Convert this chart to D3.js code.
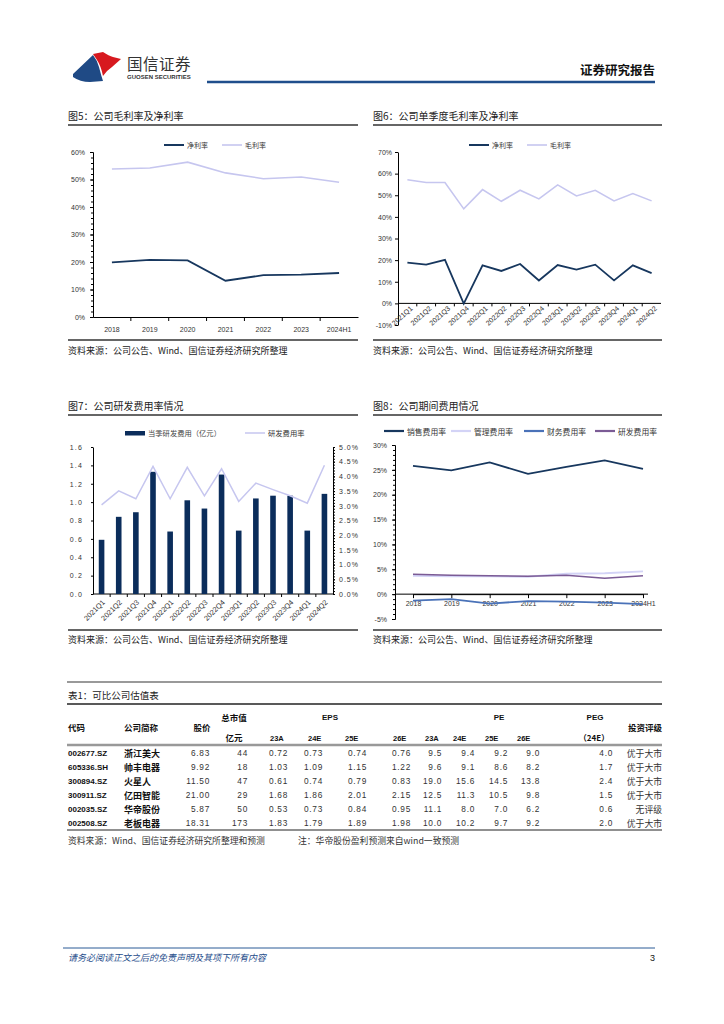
<!DOCTYPE html>
<html><head><meta charset="utf-8">
<script src="https://cdn.jsdelivr.net/npm/d3@7"></script>
<style>body{margin:0;background:#fff}</style>
</head><body><svg id="c" width="724" height="1024"></svg>
<script>
// ---------- DATA ----------
const yearCats = ["2018","2019","2020","2021","2022","2023","2024H1"];
const netMargin = [19.9,20.8,20.6,13.2,15.2,15.4,16.0];
const grossMargin = [53.8,54.2,56.3,52.4,50.3,50.9,49.0];

const quarterCats = ["2021Q1","2021Q2","2021Q3","2021Q4","2022Q1","2022Q2","2022Q3","2022Q4","2023Q1","2023Q2","2023Q3","2023Q4","2024Q1","2024Q2"];
const qNetMargin = [18.8,17.9,20.1,-0.1,17.6,15.0,18.2,10.6,17.7,15.6,17.9,10.6,17.6,14.0];
const qGrossMargin = [57.2,55.9,55.9,43.7,52.6,47.2,52.3,48.3,54.8,49.7,52.3,47.4,50.8,47.4];

const rdExpense = [0.59,0.84,0.89,1.33,0.68,1.02,0.93,1.30,0.69,1.04,1.07,1.07,0.69,1.09];
const rdRateQ = [3.03,3.51,3.24,4.34,3.24,4.31,3.34,4.26,3.15,3.77,3.55,3.34,3.09,4.38];

const sellRate = [25.8,24.9,26.5,24.2,25.6,26.9,25.2];
const adminRate = [3.7,3.6,3.6,3.5,4.1,4.2,4.6];
const finRate = [-1.3,-1.0,-1.9,-1.4,-1.5,-1.7,-2.0];
const rdRate = [4.0,3.8,3.7,3.6,3.8,3.2,3.7];

const codes = ["002677.SZ","605336.SH","300894.SZ","300911.SZ","002035.SZ","002508.SZ"];
const names = ["浙江美大","帅丰电器","火星人","亿田智能","华帝股份","老板电器"];
const prices = [6.83,9.92,11.50,21.00,5.87,18.31];
const mcap = [44,18,47,29,50,173];
const eps23A = [0.72,1.03,0.61,1.68,0.53,1.83];
const eps24E = [0.73,1.09,0.74,1.86,0.73,1.79];
const eps25E = [0.74,1.15,0.79,2.01,0.84,1.89];
const eps26E = [0.76,1.22,0.83,2.15,0.95,1.98];
const pe23A = [9.5,9.6,19.0,12.5,11.1,10.0];
const pe24E = [9.4,9.1,15.6,11.3,8.0,10.2];
const pe25E = [9.2,8.6,14.5,10.5,7.0,9.7];
const pe26E = [9.0,8.2,13.8,9.8,6.2,9.2];
const peg24E = [4.0,1.7,2.4,1.5,0.6,2.0];
const ratings = ["优于大市","优于大市","优于大市","优于大市","无评级","优于大市"];

// ---------- HELPERS ----------
const svg = d3.select("#c");
const CJK = '"Noto Sans CJK SC","Noto Sans",sans-serif';
const LAT = '"Liberation Sans",Arial,sans-serif';
const NAVY = "#17375e", LAV = "#c6c6ef", BAR = "#0b2d5b", FIN = "#4a72b8", RDP = "#7b5b95";

function txt(x,y,s,o={}){
  return svg.append("text").attr("x",x).attr("y",y).text(s)
    .attr("font-size",o.size||9).attr("fill",o.fill||"#222")
    .attr("text-anchor",o.anchor||"start").attr("dominant-baseline","central")
    .attr("font-weight",o.weight||"normal").attr("font-family",o.family||CJK)
    .attr("font-style",o.style||"normal").attr("letter-spacing",o.ls||0);
}
function hl(x1,x2,y,w,c){
  svg.append("line").attr("x1",x1).attr("x2",x2).attr("y1",y).attr("y2",y)
    .attr("stroke",c).attr("stroke-width",w);
}
function styleAxis(g,size){
  g.selectAll("path.domain").attr("stroke","#000").attr("stroke-width",1);
  g.selectAll(".tick line").attr("stroke","#000");
  g.selectAll("text").attr("font-family",LAT).attr("font-size",size||7).attr("fill","#333");
}
function legendLine(x,y,color,w,label,size){
  svg.append("line").attr("x1",x).attr("x2",x+20).attr("y1",y).attr("y2",y).attr("stroke",color).attr("stroke-width",w);
  txt(x+23,y,label,{size:size||7,fill:"#333"});
}

// ---------- PAGE HEADER ----------
svg.append("path").attr("d","M73,74 L93,55 Q97,60 99,67 Q101,75 103,81 L90,82 Q80,82 73,77Z").attr("fill","#1f4a85");
svg.append("path").attr("d","M93,54 L103,52 Q109,56 113,57 L121,59 L112,67 Q106,71 103,76 Q101,66 97,60Z").attr("fill","#d7191f");
txt(127,63,"国信证券",{size:15.5,fill:"#333",ls:0.5});
txt(127,77,"GUOSEN SECURITIES",{size:6,fill:"#333",family:LAT,weight:"bold"});
txt(655,69,"证券研究报告",{size:12.5,anchor:"end",weight:"bold",fill:"#111"});
hl(207,655,82,2.6,"#1f4e8c");

// ---------- SECTION FRAMES ----------
const SRC = "资料来源：公司公告、Wind、国信证券经济研究所整理";
txt(68,115,"图5：公司毛利率及净利率",{size:10});
hl(68,358,125,1.3,"#333");
hl(68,358,340,1.3,"#333");
txt(68,350,SRC,{size:9});
txt(373,115,"图6：公司单季度毛利率及净利率",{size:10});
hl(373,662,125,1.3,"#333");
hl(373,662,340,1.3,"#333");
txt(373,350,SRC,{size:9});
txt(68,405,"图7：公司研发费用率情况",{size:10});
hl(68,358,415,1.3,"#333");
hl(68,358,630,1.3,"#333");
txt(68,639,SRC,{size:9});
txt(373,405,"图8：公司期间费用情况",{size:10});
hl(373,662,415,1.3,"#333");
hl(373,662,630,1.3,"#333");
txt(373,639,SRC,{size:9});

// ---------- CHART 5 ----------
{
  const x = d3.scaleBand().domain(yearCats).range([93,358]);
  const y = d3.scaleLinear().domain([0,60]).range([317,152]);
  const gm = svg.append("g").attr("transform","translate(93,0)")
    .call(d3.axisLeft(y).tickValues(d3.range(0,61,2)).tickSize(2).tickFormat("").tickSizeOuter(0));
  styleAxis(gm);
  const gy = svg.append("g").attr("transform","translate(93,0)")
    .call(d3.axisLeft(y).tickValues(d3.range(0,61,10)).tickSize(3).tickPadding(5).tickFormat(d=>d+"%").tickSizeOuter(0));
  styleAxis(gy);
  const gx = svg.append("g").attr("transform","translate(0,317)")
    .call(d3.axisBottom(x).tickSize(0).tickPadding(10).tickSizeOuter(0));
  styleAxis(gx);
  svg.append("g").selectAll("line").data(yearCats.slice(1)).join("line")
    .attr("x1",d=>x(d)).attr("x2",d=>x(d)).attr("y1",317).attr("y2",321).attr("stroke","#000");
  const cx = (d,i)=>x(yearCats[i])+x.bandwidth()/2;
  const line = d3.line().x(cx).y(d=>y(d));
  svg.append("path").datum(grossMargin).attr("d",line).attr("fill","none").attr("stroke",LAV).attr("stroke-width",1.6);
  svg.append("path").datum(netMargin).attr("d",line).attr("fill","none").attr("stroke",NAVY).attr("stroke-width",1.8);
  legendLine(164,145,NAVY,2,"净利率");
  legendLine(222,145,LAV,1.6,"毛利率");
}

// ---------- CHART 6 ----------
{
  const x = d3.scaleBand().domain(quarterCats).range([398,661]);
  const y = d3.scaleLinear().domain([-10,70]).range([325,152]);
  const gy = svg.append("g").attr("transform","translate(398,0)")
    .call(d3.axisLeft(y).tickValues(d3.range(-10,71,10)).tickSize(3).tickPadding(3).tickFormat(d=>d+"%").tickSizeOuter(0));
  styleAxis(gy);
  svg.append("line").attr("x1",398).attr("x2",661).attr("y1",y(0)).attr("y2",y(0)).attr("stroke","#000");
  svg.append("g").selectAll("line").data(quarterCats.slice(1)).join("line")
    .attr("x1",d=>x(d)).attr("x2",d=>x(d)).attr("y1",y(0)).attr("y2",y(0)+3).attr("stroke","#000");
  svg.append("g").selectAll("text").data(quarterCats).join("text")
    .attr("transform",d=>`translate(${x(d)+x.bandwidth()/2+4},${y(0)+4}) rotate(-42)`)
    .attr("text-anchor","end").attr("dominant-baseline","central")
    .attr("font-family",LAT).attr("font-size",7).attr("fill","#333").text(d=>d);
  const cx = (d,i)=>x(quarterCats[i])+x.bandwidth()/2;
  const line = d3.line().x(cx).y(d=>y(d));
  svg.append("path").datum(qGrossMargin).attr("d",line).attr("fill","none").attr("stroke",LAV).attr("stroke-width",1.6);
  svg.append("path").datum(qNetMargin).attr("d",line).attr("fill","none").attr("stroke",NAVY).attr("stroke-width",1.8);
  legendLine(469,145,NAVY,2,"净利率");
  legendLine(527,145,LAV,1.6,"毛利率");
}

// ---------- CHART 7 ----------
{
  const x = d3.scaleBand().domain(quarterCats).range([93,333]);
  const yL = d3.scaleLinear().domain([0,1.6]).range([594,447]);
  const yR = d3.scaleLinear().domain([0,5]).range([594,447]);
  const gl = svg.append("g").attr("transform","translate(93,0)")
    .call(d3.axisLeft(yL).tickValues(d3.range(0,1.61,0.2)).tickSize(2).tickPadding(8).tickFormat(d3.format(".1f")).tickSizeOuter(0));
  styleAxis(gl); gl.selectAll("text").attr("letter-spacing",1.2);
  const gm = svg.append("g").attr("transform","translate(333,0)")
    .call(d3.axisRight(yR).tickValues(d3.range(0,5.01,0.1)).tickSize(2).tickFormat("").tickSizeOuter(0));
  styleAxis(gm);
  const gr = svg.append("g").attr("transform","translate(333,0)")
    .call(d3.axisRight(yR).tickValues(d3.range(0,5.01,0.5)).tickSize(2).tickPadding(4).tickFormat(d=>d3.format(".1f")(d)+"%").tickSizeOuter(0));
  styleAxis(gr); gr.selectAll("text").attr("letter-spacing",1);
  svg.append("line").attr("x1",93).attr("x2",333).attr("y1",594).attr("y2",594).attr("stroke","#000");
  svg.append("g").selectAll("line").data(quarterCats.slice(1)).join("line")
    .attr("x1",d=>x(d)).attr("x2",d=>x(d)).attr("y1",594).attr("y2",597).attr("stroke","#000");
  const bw = 5.6;
  svg.append("g").selectAll("rect").data(rdExpense).join("rect")
    .attr("x",(d,i)=>x(quarterCats[i])+x.bandwidth()/2-bw/2).attr("width",bw)
    .attr("y",d=>yL(d)).attr("height",d=>594-yL(d)).attr("fill",BAR);
  const line = d3.line().x((d,i)=>x(quarterCats[i])+x.bandwidth()/2).y(d=>yR(d));
  svg.append("path").datum(rdRateQ).attr("d",line).attr("fill","none").attr("stroke",LAV).attr("stroke-width",1.5);
  svg.append("g").selectAll("text").data(quarterCats).join("text")
    .attr("transform",d=>`translate(${x(d)+x.bandwidth()/2+2},${601}) rotate(-45)`)
    .attr("text-anchor","end").attr("dominant-baseline","central")
    .attr("font-family",LAT).attr("font-size",7.3).attr("fill","#333").text(d=>d);
  svg.append("rect").attr("x",125).attr("y",431).attr("width",20).attr("height",4.5).attr("fill",BAR);
  txt(148,433,"当季研发费用（亿元）",{size:7.3,fill:"#444"});
  legendLine(245,433,LAV,1.5,"研发费用率",7.3);
}

// ---------- CHART 8 ----------
{
  const x = d3.scalePoint().domain(yearCats).range([413,643]);
  const y = d3.scaleLinear().domain([-5,30]).range([619,445]);
  const gm = svg.append("g").attr("transform","translate(395,0)")
    .call(d3.axisLeft(y).tickValues(d3.range(-5,31,1)).tickSize(2).tickFormat("").tickSizeOuter(0));
  styleAxis(gm);
  const gy = svg.append("g").attr("transform","translate(395,0)")
    .call(d3.axisLeft(y).tickValues(d3.range(-5,31,5)).tickSize(3).tickPadding(5).tickFormat(d=>d+"%").tickSizeOuter(0));
  styleAxis(gy);
  const gx = svg.append("g").attr("transform",`translate(0,${y(0)})`)
    .call(d3.axisBottom(x).tickSize(4).tickPadding(3).tickSizeOuter(0));
  styleAxis(gx);
  svg.append("line").attr("x1",395).attr("x2",648).attr("y1",y(0)).attr("y2",y(0)).attr("stroke","#000");
  const line = d3.line().x((d,i)=>x(yearCats[i])).y(d=>y(d));
  svg.append("path").datum(adminRate).attr("d",line).attr("fill","none").attr("stroke","#d3d3f6").attr("stroke-width",1.8);
  svg.append("path").datum(rdRate).attr("d",line).attr("fill","none").attr("stroke",RDP).attr("stroke-width",1.6);
  svg.append("path").datum(finRate).attr("d",line).attr("fill","none").attr("stroke",FIN).attr("stroke-width",1.8);
  svg.append("path").datum(sellRate).attr("d",line).attr("fill","none").attr("stroke",NAVY).attr("stroke-width",1.8);
  legendLine(384,431,NAVY,2.2,"销售费用率",7.8);
  legendLine(451,431,"#d3d3f6",2.2,"管理费用率",7.8);
  legendLine(524,431,FIN,2.2,"财务费用率",7.8);
  legendLine(595,431,RDP,2.2,"研发费用率",7.8);
}

// ---------- TABLE ----------
{
  hl(67,662,682,2,"#999");
  txt(68,695,"表1：可比公司估值表",{size:9.5});
  hl(67,662,704,1.3,"#222");
  const hb = {size:8.5,weight:"bold",fill:"#111"};
  txt(68,727,"代码",hb);
  txt(124,727,"公司简称",hb);
  txt(202,727,"股价",{...hb,anchor:"middle"});
  txt(234,717,"总市值",{...hb,anchor:"middle"});
  txt(234,737,"亿元",{...hb,anchor:"middle"});
  txt(330,717,"EPS",{...hb,anchor:"middle",family:LAT,size:8});
  txt(499,717,"PE",{...hb,anchor:"middle",family:LAT,size:8});
  txt(595,717,"PEG",{...hb,anchor:"middle",family:LAT,size:8});
  txt(594,737,"（24E）",{...hb,anchor:"middle",size:8});
  txt(662,727,"投资评级",{...hb,anchor:"end"});
  const subHdr = [["23A",270],["24E",308],["25E",345],["26E",393],["23A",425],["24E",453],["25E",485],["26E",517]];
  subHdr.forEach(([s,xx])=>txt(xx,738,s,{...hb,family:LAT,size:7.5}));
  hl(67,662,745,2.4,"#999");

  const rowY = d3.scalePoint().domain(d3.range(codes.length)).range([753,823]);
  const f2 = d3.format(".2f"), f1 = d3.format(".1f"), f0 = d3.format("d");
  const numCols = [
    [prices,f2,210],[mcap,f0,248],[eps23A,f2,288],[eps24E,f2,323],[eps25E,f2,367],[eps26E,f2,411],
    [pe23A,f1,442],[pe24E,f1,475],[pe25E,f1,508],[pe26E,f1,540],[peg24E,f1,613]
  ];
  codes.forEach((c,i)=>{
    const yy = rowY(i);
    txt(68,yy,c,{size:8,weight:"bold",family:LAT,fill:"#111"});
    txt(124,yy,names[i],{size:9,weight:"bold",fill:"#111"});
    numCols.forEach(([arr,fmt,xr])=>txt(xr,yy,fmt(arr[i]),{size:8.3,family:LAT,anchor:"end",fill:"#333",ls:0.7}));
    txt(662,yy,ratings[i],{size:8.8,anchor:"end",fill:"#333"});
  });
  hl(67,662,830,1.2,"#222");
  txt(68,840,"资料来源：Wind、国信证券经济研究所整理和预测",{size:8.8,fill:"#333"});
  txt(298,840,"注：华帝股份盈利预测来自wind一致预测",{size:8.8,fill:"#333"});
}

// ---------- FOOTER ----------
hl(63,655,948,1,"#2a5a96");
txt(68,957,"请务必阅读正文之后的免责声明及其项下所有内容",{size:9,style:"italic",fill:"#1f4e8c"});
txt(655,958,"3",{size:9,anchor:"end",family:LAT,fill:"#111"});
</script></body></html>
